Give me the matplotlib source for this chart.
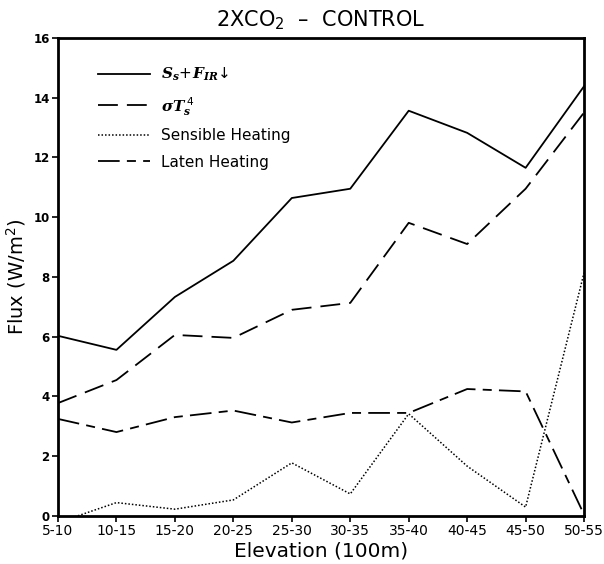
import matplotlib.pyplot as plt
import numpy as np

plt.rcParams["mathtext.fontset"] = "custom"
plt.rcParams["mathtext.it"] = "DejaVu Serif:italic:bold"
plt.rcParams["mathtext.rm"] = "DejaVu Sans"
plt.rcParams["mathtext.bf"] = "DejaVu Serif:italic:bold"

# elevation bands (100 m) and surface energy terms (W/m^2)
bands = ["5-10", "10-15", "15-20", "20-25", "25-30",
         "30-35", "35-40", "40-45", "45-50", "50-55"]
sw_plus_lw = [6.03, 5.56, 7.33, 8.54, 10.64, 10.95, 13.56, 12.82, 11.65, 14.38]
sigma_ts4 = [3.78, 4.55, 6.06, 5.96, 6.90, 7.13, 9.81, 9.10, 10.95, 13.50]
sensible = [-0.22, 0.45, 0.23, 0.54, 1.78, 0.74, 3.42, 1.67, 0.30, 8.14]
latent = [3.25, 2.81, 3.31, 3.53, 3.13, 3.45, 3.45, 4.25, 4.17, 0.05]

yticks = np.arange(0, 17, 2)

fig = plt.figure(figsize=(6.04, 5.64), dpi=100)
ax = fig.add_axes([0.096, 0.085, 0.871, 0.848])

x = np.arange(len(bands))
ax.plot(x, sw_plus_lw, color="black", lw=1.3, ls="-",
        label=r"$S_s\!+\!F_{IR}\!\downarrow$")
ax.plot(x, sigma_ts4, color="black", lw=1.3, ls=(0, (11, 5)),
        label=r"$\sigma T_s^{\,4}$")
ax.plot(x, sensible, color="black", lw=1.1, ls=(0, (1, 1.3)),
        label="Sensible Heating")
ax.plot(x, latent, color="black", lw=1.3, ls=(0, (12, 4, 5, 4)),
        label="Laten Heating")

ax.set_xlim(0, len(bands) - 1)
ax.set_ylim(0, 16)
ax.set_xticks(x)
ax.set_xticklabels(bands, fontsize=10)
ax.set_yticks(yticks)
ax.set_yticklabels([str(v) for v in yticks], fontsize=8.5, fontweight="bold")
ax.tick_params(axis="both", direction="out", length=4, width=1.2, pad=2)

for sp in ax.spines.values():
    sp.set_linewidth(2)

ax.set_xlabel("Elevation (100m)", fontsize=14.5, labelpad=2)
ax.set_ylabel("Flux (W/m$^2$)", fontsize=14, labelpad=4)
ax.set_title("2XCO$_2$  \u2013  CONTROL", fontsize=15, pad=8)

leg = ax.legend(loc="upper left", bbox_to_anchor=(0.05, 0.97), frameon=False,
                fontsize=11, handlelength=3.4, handletextpad=0.7, labelspacing=0.75)

fig.savefig("out.png", dpi=100)
